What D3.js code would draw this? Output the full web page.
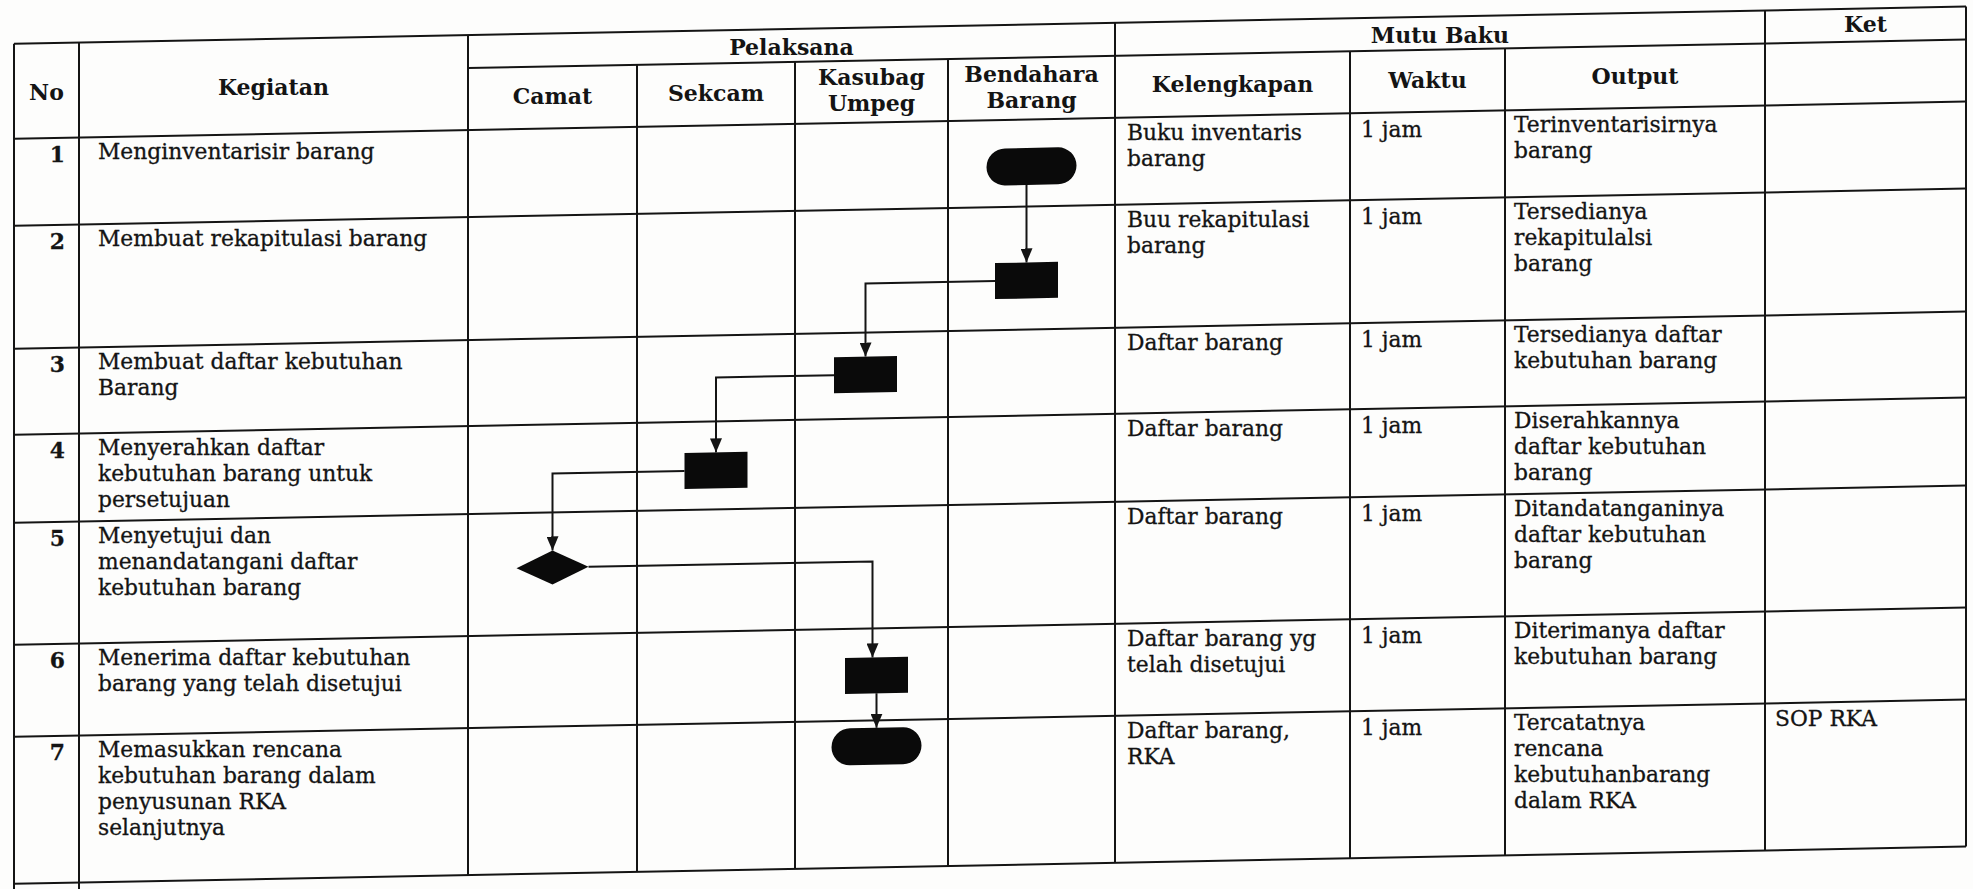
<!DOCTYPE html>
<html><head><meta charset="utf-8">
<script src="https://cdn.jsdelivr.net/npm/d3@7"></script>
<style>html,body{margin:0;padding:0;background:#fff;} svg{display:block}</style>
</head><body>
<svg id="c" width="1973" height="889"></svg>
<script>
// ---------------- data ----------------
const stepNo = [1, 2, 3, 4, 5, 6, 7];
const kegiatan = [
  ["Menginventarisir  barang"],
  ["Membuat rekapitulasi barang"],
  ["Membuat daftar kebutuhan", "Barang"],
  ["Menyerahkan daftar", "kebutuhan  barang untuk", "persetujuan"],
  ["Menyetujui dan", "menandatangani daftar", "kebutuhan barang"],
  ["Menerima daftar kebutuhan", "barang yang telah disetujui"],
  ["Memasukkan rencana", "kebutuhan barang dalam", "penyusunan RKA", "selanjutnya"]
];
const pelaksana = ["Camat", "Sekcam", "Kasubag Umpeg", "Bendahara Barang"];
const pelaksanaLabel = [["Camat"], ["Sekcam"], ["Kasubag", "Umpeg"], ["Bendahara", "Barang"]];
const mutuHeaders = ["Kelengkapan", "Waktu", "Output"];
const groupHeaders = ["Pelaksana", "Mutu Baku", "Ket"];
const kelengkapan = [
  ["Buku inventaris", "barang"],
  ["Buu rekapitulasi", "barang"],
  ["Daftar barang"],
  ["Daftar barang"],
  ["Daftar barang"],
  ["Daftar barang yg", "telah disetujui"],
  ["Daftar barang,", "RKA"]
];
const waktu = ["1 jam", "1 jam", "1 jam", "1 jam", "1 jam", "1 jam", "1 jam"];
const outputs = [
  ["Terinventarisirnya", "barang"],
  ["Tersedianya", "rekapitulalsi", "barang"],
  ["Tersedianya daftar", "kebutuhan barang"],
  ["Diserahkannya", "daftar kebutuhan", "barang"],
  ["Ditandatanganinya", "daftar kebutuhan", "barang"],
  ["Diterimanya  daftar", "kebutuhan barang"],
  ["Tercatatnya", "rencana", "kebutuhanbarang", "dalam RKA"]
];
const ket = ["", "", "", "", "", "", "SOP RKA"];
const actor = ["Bendahara Barang", "Bendahara Barang", "Kasubag Umpeg", "Sekcam", "Camat", "Kasubag Umpeg", "Kasubag Umpeg"];
const shapeType = ["terminator", "process", "process", "process", "decision", "process", "terminator"];

// ---------------- layout ----------------
const colKeys = ["No", "Kegiatan", ...pelaksana, ...mutuHeaders, "Ket"];
const colEdges = [14, 79, 468, 637, 795, 948, 1115, 1350, 1505, 1765, 1966];
const xLeft = d3.scaleOrdinal().domain(colKeys).range(colEdges.slice(0, -1));
const xRight = d3.scaleOrdinal().domain(colKeys).range(colEdges.slice(1));
const xMid = k => (xLeft(k) + xRight(k)) / 2;
const TOP = 44, SUB = 77, HB = 139;
const rowEdges = [139, 226, 349, 435, 523, 645, 737, 884];
const yTop = d3.scaleOrdinal().domain(stepNo).range(rowEdges.slice(0, -1));
const shapeDy = [47, 74, 42, 49, 55, 47, 26];
const shapeDx = [0, -5, -6, 0, 0, 5, 5];
const LEFT = colEdges[0], RIGHT = colEdges[colEdges.length - 1], BOTTOM = rowEdges[rowEdges.length - 1];

// the scanned page is slightly sheared: y drops as x grows
const SKEW = 1.09;
const K = Math.tan(SKEW * Math.PI / 180);
const sy = (x, y) => y - K * x;

const FONT = "'DejaVu Serif', 'Liberation Serif', serif";
const INK = "#141414";

const svg = d3.select("#c");
svg.append("rect").attr("width", 1973).attr("height", 889).attr("fill", "#fdfdfc");

const defs = svg.append("defs");
defs.append("marker").attr("id", "arr").attr("markerUnits", "userSpaceOnUse")
  .attr("viewBox", "0 0 14 12").attr("refX", 14).attr("refY", 6)
  .attr("markerWidth", 14).attr("markerHeight", 12).attr("orient", "auto")
  .append("path").attr("d", "M0,0 L14,6 L0,12 Z").attr("fill", INK);

const g = svg.append("g").attr("transform", `skewY(${-SKEW})`);

// ---------------- grid lines ----------------
const grid = g.append("g").attr("stroke", INK).attr("stroke-width", 2).attr("fill", "none");
const hLines = [
  [LEFT, RIGHT, TOP],
  [xLeft("Camat"), RIGHT, SUB],
  ...rowEdges.map(y => [LEFT, RIGHT, y])
];
grid.selectAll("line.h").data(hLines).join("line").attr("class", "h")
  .attr("x1", d => d[0]).attr("x2", d => d[1]).attr("y1", d => d[2]).attr("y2", d => d[2]);
const vLines = [
  [LEFT, TOP, BOTTOM + 14],
  [xRight("No"), TOP, BOTTOM + 14],
  [xLeft("Camat"), TOP, BOTTOM],
  [xRight("Camat"), SUB, BOTTOM],
  [xRight("Sekcam"), SUB, BOTTOM],
  [xRight("Kasubag Umpeg"), SUB, BOTTOM],
  [xLeft("Kelengkapan"), TOP, BOTTOM],
  [xRight("Kelengkapan"), SUB, BOTTOM],
  [xRight("Waktu"), SUB, BOTTOM],
  [xLeft("Ket"), TOP, BOTTOM],
  [RIGHT, TOP, BOTTOM]
];
grid.selectAll("line.v").data(vLines).join("line").attr("class", "v")
  .attr("x1", d => d[0]).attr("x2", d => d[0]).attr("y1", d => d[1]).attr("y2", d => d[2]);

// ---------------- headers (text kept upright, anchored on the sheared grid) ----------------
const hdr = svg.append("g").attr("font-family", FONT).attr("font-weight", "bold")
  .attr("font-size", 22).attr("fill", INK).attr("text-anchor", "middle");
hdr.append("text").attr("x", xMid("No")).attr("y", sy(xMid("No"), (TOP + HB) / 2 + 9)).text("No");
hdr.append("text").attr("x", xMid("Kegiatan")).attr("y", sy(xMid("Kegiatan"), (TOP + HB) / 2 + 9)).text("Kegiatan");
const groupSpans = [
  [xLeft("Camat"), xRight("Bendahara Barang")],
  [xLeft("Kelengkapan"), xRight("Output")],
  [xLeft("Ket"), xRight("Ket")]
];
hdr.selectAll("text.grp").data(groupHeaders).join("text").attr("class", "grp")
  .attr("x", (d, i) => (groupSpans[i][0] + groupSpans[i][1]) / 2)
  .attr("y", (d, i) => sy((groupSpans[i][0] + groupSpans[i][1]) / 2, (TOP + SUB) / 2 + (i === 2 ? 7 : 10)))
  .text(d => d);
const subKeys = [...pelaksana, ...mutuHeaders];
const subLabels = [...pelaksanaLabel, ...mutuHeaders.map(d => [d])];
hdr.selectAll("text.sub").data(subKeys).join("text").attr("class", "sub")
  .attr("x", d => xMid(d))
  .each(function (d, i) {
    const lines = subLabels[i];
    const cy = (SUB + HB) / 2 - 1;
    d3.select(this).selectAll("tspan").data(lines).join("tspan")
      .attr("x", xMid(d))
      .attr("y", (l, j) => sy(xMid(d), cy + 8 + (j - (lines.length - 1) / 2) * 26))
      .text(l => l);
  });

// ---------------- body text ----------------
const body = svg.append("g").attr("font-family", FONT).attr("font-size", 21.8).attr("fill", INK)
  .attr("stroke", INK).attr("stroke-width", 0.3);
const LH = 26, BASE = 24;
function multiline(sel, xf, linesf, anchor, refDx) {
  sel.attr("text-anchor", anchor || "start").each(function (d, i) {
    const lines = linesf(d, i);
    const x = xf(d, i);
    d3.select(this).selectAll("tspan").data(lines).join("tspan")
      .attr("x", x).attr("y", (l, j) => sy(x + (refDx || 0), yTop(d) + BASE + j * LH)).text(l => l);
  });
}
body.selectAll("text.no").data(stepNo).join("text").attr("class", "no").attr("font-weight", "bold")
  .call(multiline, () => xRight("No") - 14, d => [String(d)], "end", 0);
body.selectAll("text.keg").data(stepNo).join("text").attr("class", "keg")
  .call(multiline, () => xLeft("Kegiatan") + 19, (d, i) => kegiatan[i], "start", 120);
body.selectAll("text.kel").data(stepNo).join("text").attr("class", "kel")
  .call(multiline, () => xLeft("Kelengkapan") + 12, (d, i) => kelengkapan[i], "start", 80);
body.selectAll("text.wak").data(stepNo).join("text").attr("class", "wak")
  .call(multiline, () => xLeft("Waktu") + 11, (d, i) => [waktu[i]], "start", 30);
body.selectAll("text.out").data(stepNo).join("text").attr("class", "out")
  .call(multiline, () => xLeft("Output") + 9, (d, i) => outputs[i], "start", 90);
body.selectAll("text.ket").data(stepNo).join("text").attr("class", "ket")
  .call(multiline, () => xLeft("Ket") + 10, (d, i) => [ket[i]], "start", 40);

// ---------------- flow ----------------
const SIZE = {
  terminator: { w: 90, h: 37 },
  process: { w: 63, h: 36 },
  decision: { w: 72, h: 34 }
};
const nodes = stepNo.map((s, i) => {
  const t = shapeType[i];
  return { s, t, cx: xMid(actor[i]) + shapeDx[i], cy: yTop(s) + shapeDy[i], w: SIZE[t].w, h: SIZE[t].h };
});

const links = nodes.slice(1).map((b, i) => {
  const a = nodes[i];
  let pts;
  if (Math.abs(a.cx - b.cx) < 12) {
    pts = [[b.cx, a.cy + a.h / 2], [b.cx, b.cy - b.h / 2]];
  } else if (b.cx < a.cx) {
    pts = [[a.cx - a.w / 2, a.cy], [b.cx, a.cy], [b.cx, b.cy - b.h / 2]];
  } else {
    pts = [[a.cx + a.w / 2, a.cy], [b.cx - 4, a.cy], [b.cx - 4, b.cy - b.h / 2]];
  }
  return pts;
});
const flow = g.append("g");
flow.selectAll("path.link").data(links).join("path").attr("class", "link")
  .attr("d", d => d3.line()(d)).attr("fill", "none").attr("stroke", INK)
  .attr("stroke-width", 2).attr("marker-end", "url(#arr)");

flow.selectAll("path.node").data(nodes).join("path").attr("class", "node")
  .attr("fill", "#0a0a0a")
  .attr("d", n => {
    const x0 = n.cx - n.w / 2, y0 = n.cy - n.h / 2;
    if (n.t === "decision") {
      return `M${x0},${n.cy} L${n.cx},${y0} L${x0 + n.w},${n.cy} L${n.cx},${y0 + n.h} Z`;
    }
    const p = d3.path();
    const r = n.t === "terminator" ? n.h / 2 : 0;
    if (r) {
      p.moveTo(x0 + r, y0); p.lineTo(x0 + n.w - r, y0);
      p.arc(x0 + n.w - r, n.cy, r, -Math.PI / 2, Math.PI / 2);
      p.lineTo(x0 + r, y0 + n.h);
      p.arc(x0 + r, n.cy, r, Math.PI / 2, Math.PI * 1.5);
      p.closePath();
    } else {
      p.rect(x0, y0, n.w, n.h);
    }
    return p.toString();
  });
</script>
</body></html>
